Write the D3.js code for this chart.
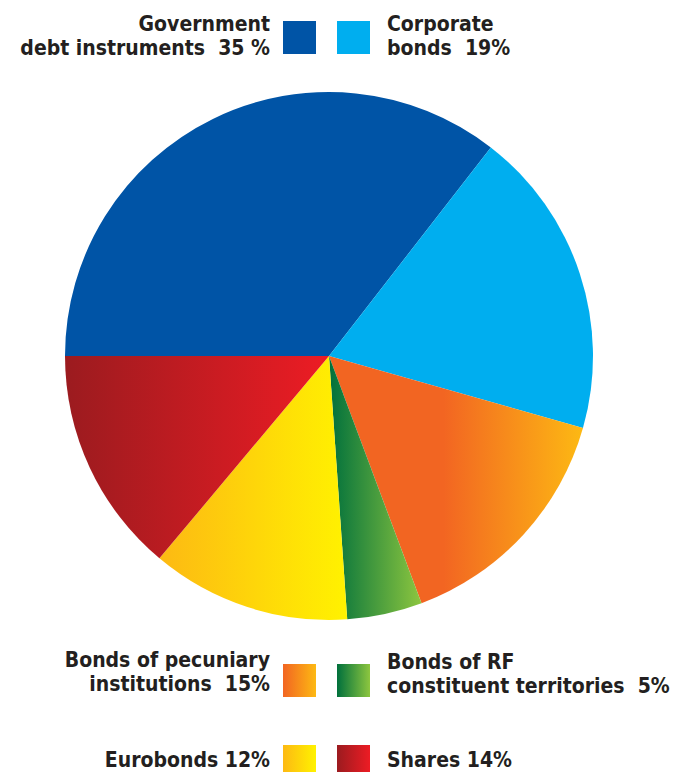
<!DOCTYPE html>
<html>
<head>
<meta charset="utf-8">
<script src="https://cdn.jsdelivr.net/npm/d3@7"></script>
<style>
  html, body { margin: 0; padding: 0; background: #fff; }
  text { font-family: "DejaVu Sans Condensed", "DejaVu Sans", sans-serif; font-weight: bold; font-size: 21px; fill: #231f20; white-space: pre; }
</style>
</head>
<body>
<svg id="chart"></svg>
<script>
// chart data (slice sizes, labels as printed)
const categories = ["Government debt instruments", "Corporate bonds", "Bonds of pecuniary institutions",
    "Bonds of RF constituent territories", "Eurobonds", "Shares"];
const shares = [35.5, 18.9, 14.9, 4.6, 12.2, 13.9];
const legendLines = [
    ["Government", "debt instruments  35 %"],
    ["Corporate", "bonds  19%"],
    ["Bonds of pecuniary", "institutions  15%"],
    ["Bonds of RF", "constituent territories  5%"],
    ["Eurobonds 12%"],
    ["Shares 14%"]
];
// gradient colours per category: start, end, and where the start colour is held to in the slice
const fills = [
    ["#0054a6", "#0054a6", 0],
    ["#00aeef", "#00aeef", 0],
    ["#f26522", "#fdb913", 0.45],
    ["#00703c", "#8dc63f", 0],
    ["#fdb913", "#fff200", 0],
    ["#9b1b1f", "#ed1c24", 0]
];

const width = 680, height = 772;
const cx = 329, cy = 356, radius = 264;

const svg = d3.select("#chart")
    .attr("width", width)
    .attr("height", height);

const defs = svg.append("defs");
function addGradient(id, f, hold) {
    const g = defs.append("linearGradient")
        .attr("id", id)
        .attr("x1", "0%").attr("y1", "0%")
        .attr("x2", "100%").attr("y2", "0%");
    g.append("stop").attr("offset", "0%").attr("stop-color", f[0]);
    if (hold) g.append("stop").attr("offset", hold * 100 + "%").attr("stop-color", f[0]);
    g.append("stop").attr("offset", "100%").attr("stop-color", f[1]);
}
fills.forEach((f, i) => {
    addGradient("slice" + i, f, f[2]);
    addGradient("key" + i, f, 0);
});

const data = categories.map((c, i) => ({name: c, value: shares[i], idx: i}));

// pie starts at 9 o'clock and runs clockwise
const pie = d3.pie()
    .value(d => d.value)
    .sort(null)
    .startAngle(-Math.PI / 2)
    .endAngle(Math.PI * 1.5);

const arc = d3.arc().innerRadius(0).outerRadius(radius);

svg.append("g")
    .attr("transform", "translate(" + cx + "," + cy + ")")
    .selectAll("path")
    .data(pie(data))
    .join("path")
    .attr("d", arc)
    .attr("fill", d => "url(#slice" + d.data.idx + ")");

// legend: three rows, left column text is right-aligned before its swatch
const rows = [
    {y: 21, base: 31},
    {y: 664, base: 667},
    {y: 745, base: 767}
];
const swatch = 33, lineH = 24;

data.forEach((d, i) => {
    const row = rows[Math.floor(i / 2)];
    const left = i % 2 === 0;
    const sx = left ? 283 : 337;
    svg.append("rect")
        .attr("x", sx)
        .attr("y", row.y)
        .attr("width", swatch)
        .attr("height", swatch)
        .attr("fill", "url(#key" + i + ")");

    const lines = legendLines[i];
    const t = svg.append("text")
        .attr("text-anchor", left ? "end" : "start");
    lines.forEach((l, j) => {
        t.append("tspan")
            .attr("x", left ? 270 : 387)
            .attr("y", row.base + (i === 3 ? 2 : 0) + j * lineH)
            .text(l);
    });
});
</script>
</body>
</html>
